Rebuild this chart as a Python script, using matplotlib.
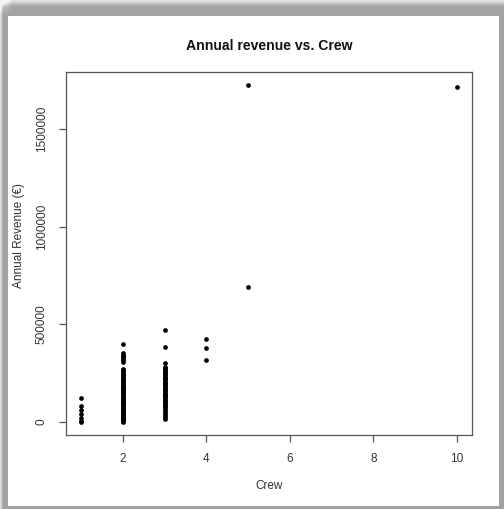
import numpy as np
import matplotlib
matplotlib.use("Agg")
import matplotlib.pyplot as plt

plt.rcParams['font.family'] = ['Liberation Sans', 'DejaVu Sans']

# Annual revenue (EUR) per vessel, grouped by crew size
crew1 = [122000, 82000, 60000, 40000, 19000, 5000, 0]
crew2 = [397000, 350000, 343000, 336000, 330000, 322000, 315000, 307000,
         272000, 265000, 258000, 251000, 245000, 238000, 232000, 226000,
         220000, 214000, 208000, 202000, 196000, 190000, 185000, 179000,
         173000, 167000, 161000, 156000, 150000, 145000, 139000, 133000,
         128000, 122000, 116000, 111000, 105000, 100000, 94000, 89000,
         83000, 78000, 72000, 67000, 61000, 56000, 50000, 45000, 39000,
         34000, 28000, 23000, 17000, 12000, 6000, 2000, 0]
crew3 = [469000, 383000, 300000, 280000, 274000, 268000, 262000, 255000,
         249000, 243000, 237000, 230000, 224000, 218000, 212000, 205000,
         199000, 193000, 187000, 180000, 174000, 168000, 162000, 155000,
         149000, 143000, 137000, 130000, 124000, 118000, 112000, 105000,
         99000, 93000, 86000, 80000, 74000, 66000, 52000, 43000, 32000,
         22000, 14000]
crew4 = [426000, 378000, 318000]
crew5 = [1725000, 690000]
crew10 = [1715000]

groups = [(1, crew1), (2, crew2), (3, crew3), (4, crew4), (5, crew5), (10, crew10)]
crew = np.concatenate([[c] * len(v) for c, v in groups])
revenue = np.concatenate([v for _, v in groups])

x_ticks = [2, 4, 6, 8, 10]
y_ticks = [0, 500000, 1000000, 1500000]

W, H = 504, 509
fig = plt.figure(figsize=(W / 100, H / 100), dpi=100)

# grey frame with a soft shadow along the top edge
bg = np.full((H, W), 0.64)
yy, xx = np.mgrid[0:H, 0:W]
inner = (xx >= 8) & (xx < 499) & (yy >= 16) & (yy < 506)
bg[inner] = 1.0
fade = np.clip(1 - yy / 6.0, 0, 1) * 0.25
fade_left = np.clip(1 - xx / 12.0, 0, 1) * np.clip(1 - yy / 14.0, 0, 1) * 0.3
fade_edge = np.clip(1 - xx / 2.5, 0, 1) * 0.25
bg = np.where(inner, bg, np.clip(bg + fade + fade_left + fade_edge, 0, 0.95))
bg_ax = fig.add_axes([0, 0, 1, 1], zorder=-1)
bg_ax.imshow(bg, cmap='gray', vmin=0, vmax=1, aspect='auto', interpolation='bilinear')
bg_ax.axis('off')

ax = fig.add_axes([66 / W, 1 - 435 / H, (472 - 66) / W, (435 - 72) / H])
ax.plot(crew, revenue, 'o', color='black', markersize=3.4, markeredgewidth=0)

lo, hi = revenue.min(), revenue.max()
pad = 0.04 * (hi - lo)
ax.set_ylim(lo - pad, hi + pad)
xpad = 0.04 * (crew.max() - crew.min())
ax.set_xlim(crew.min() - xpad, crew.max() + xpad)

ax.set_xticks(x_ticks)
ax.set_xticklabels([str(t) for t in x_ticks])
ax.set_yticks(y_ticks)
ax.set_yticklabels([str(t) for t in y_ticks], rotation=90, va='center')

for s in ax.spines.values():
    s.set_color('#555555')
    s.set_linewidth(0.9)
ax.tick_params(direction='out', length=5, width=0.9, color='#555555',
               labelsize=8.5, labelcolor='#333333', pad=8)

fig.text(269 / W, 1 - 46 / H, 'Annual revenue vs. Crew', ha='center', va='center',
         fontsize=10.1, fontweight='bold', color='#111111')
fig.text(269 / W, 1 - 486 / H, 'Crew', ha='center', va='center',
         fontsize=8.5, color='#333333')
fig.text(19 / W, 1 - 236 / H, 'Annual Revenue (€)', ha='center', va='center',
         rotation=90, fontsize=8.5, color='#333333')

fig.savefig('out.png', dpi=100)
